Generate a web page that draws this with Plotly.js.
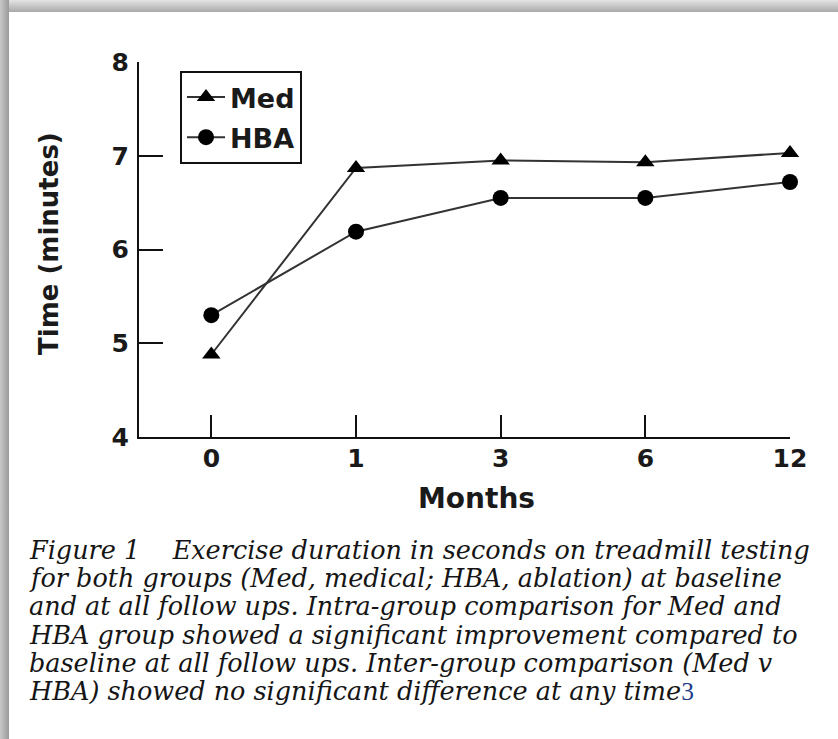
<!DOCTYPE html>
<html>
<head>
<meta charset="utf-8">
<script src="https://cdn.plot.ly/plotly-3.0.1.min.js"></script>
<style>
  html, body { margin: 0; padding: 0; background: #fff; }
  #wrap { position: relative; width: 838px; height: 739px; overflow: hidden; }
  #chart { position: absolute; left: 0; top: 0; width: 838px; height: 739px; }
  #topbar { position: absolute; left: 0; top: 0; width: 838px; height: 12px;
            background: linear-gradient(to bottom, #e4e4e4, #a9a9a9); pointer-events: none; }
  #leftbar { position: absolute; left: 0; top: 0; width: 9px; height: 739px;
             background: linear-gradient(to right, #c8c8c8, #9a9a9a); pointer-events: none; }
</style>
</head>
<body>
<div id="wrap">
  <div id="chart"></div>
  <div id="topbar"></div>
  <div id="leftbar"></div>
</div>
<script>
// ---- data ----
const months = ['0', '1', '3', '6', '12'];
const medValues = [4.88, 6.87, 6.95, 6.93, 7.03];
const hbaValues = [5.30, 6.19, 6.55, 6.55, 6.72];
const yTickValues = [4, 5, 6, 7, 8];
const seriesNames = ['Med', 'HBA'];
const xTitle = 'Months';
const yTitle = 'Time (minutes)';
const captionLines = [
  'Figure 1\u00A0\u00A0\u00A0\u00A0Exercise duration in seconds on treadmill testing',
  'for both groups (Med, medical; HBA, ablation) at baseline',
  'and at all follow ups. Intra-group comparison for Med and',
  'HBA group showed a significant improvement compared to',
  'baseline at all follow ups. Inter-group comparison (Med v',
  'HBA) showed no significant difference at any time'
];
const refNumber = '3';

// ---- layout helpers (plot area in px) ----
const L = 139, R = 48, T = 62, B = 302, W = 838, H = 739;
const pw = W - L - R, ph = H - T - B;
const px = p => (p - L) / pw;
const py = p => (H - B - p) / ph;

const lineStyle = { color: '#333', width: 2 };
const traces = [
  { x: months, y: medValues, name: seriesNames[0], legendgroup: 'g1', type: 'scatter', mode: 'lines+markers',
    line: lineStyle, marker: { symbol: 'triangle-up', size: 16, color: '#000' }, cliponaxis: false },
  { x: months, y: hbaValues, name: seriesNames[1], legendgroup: 'g2', type: 'scatter', mode: 'lines+markers',
    line: lineStyle, marker: { symbol: 'circle', size: 16, color: '#000' }, cliponaxis: false }
];

const sans = 'DejaVu Sans, Arial, sans-serif';
const capTop = 550, capStep = 28.2;
const annotations = captionLines.map((t, i) => ({
  xref: 'paper', yref: 'paper', x: px(27), y: py(capTop + i * capStep), xanchor: 'left', yanchor: 'middle',
  showarrow: false, align: 'left',
  text: '<i>' + t + '</i>' + (i === captionLines.length - 1
        ? '<span style="color:#1f3d8a;font-family:Liberation Serif, serif">' + refNumber + '</span>' : ''),
  font: { family: 'DejaVu Serif, serif', size: 25.5, color: '#151515' }
}));
annotations.push({
  xref: 'paper', yref: 'paper', x: px(476), y: py(498), xanchor: 'center', yanchor: 'middle',
  showarrow: false, text: xTitle, font: { family: sans, size: 28, color: '#1a1a1a', weight: 'bold' }
});
annotations.push({
  xref: 'paper', yref: 'paper', x: px(49), y: py(243), xanchor: 'center', yanchor: 'middle',
  showarrow: false, textangle: -90, text: yTitle, font: { family: sans, size: 26, color: '#1a1a1a', weight: 'bold' }
});

const tickFont = { family: sans, size: 25, color: '#1a1a1a', weight: 'bold' };
const layout = {
  width: W, height: H,
  margin: { l: L, r: R, t: T, b: B, pad: 0 },
  paper_bgcolor: '#fff', plot_bgcolor: '#fff',
  showlegend: true,
  legend: {
    x: px(180), y: py(71), xanchor: 'left', yanchor: 'top',
    bordercolor: '#111', borderwidth: 2, bgcolor: '#fff',
    font: { family: sans, size: 27, color: '#1a1a1a', weight: 'bold' },
    traceorder: 'grouped', itemwidth: 38, tracegroupgap: 2
  },
  xaxis: {
    type: 'category', categoryorder: 'array', categoryarray: months,
    range: [-0.5, 4], showgrid: false, zeroline: false,
    showline: true, linecolor: '#111', linewidth: 2,
    ticks: 'inside', ticklen: 22, tickwidth: 2, tickcolor: '#111',
    tickfont: tickFont, ticklabelstandoff: -2,
    automargin: false
  },
  yaxis: {
    range: [4, 8], tickvals: yTickValues, showgrid: false, zeroline: false,
    showline: true, linecolor: '#111', linewidth: 2,
    ticks: 'inside', ticklen: 24, tickwidth: 2, tickcolor: '#111',
    tickfont: tickFont, ticklabelstandoff: 3,
    automargin: false
  },
  annotations: annotations
};

Plotly.newPlot('chart', traces, layout, { displayModeBar: false, staticPlot: true });
</script>
</body>
</html>
